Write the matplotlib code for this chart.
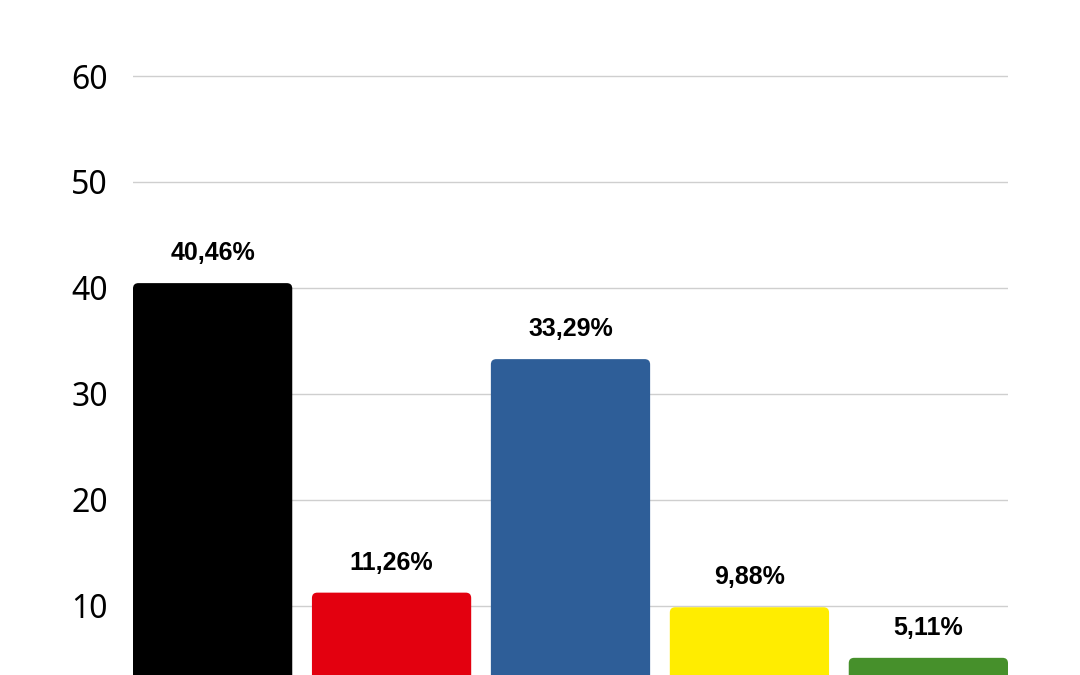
import matplotlib
matplotlib.use("Agg")
import matplotlib.pyplot as plt
from matplotlib.patches import FancyBboxPatch

# Values (percent)
parties = ["CDU", "SPD", "AfD", "FDP", "Grüne"]
values = [40.46, 11.26, 33.29, 9.88, 5.11]
labels = ["40,46%", "11,26%", "33,29%", "9,88%", "5,11%"]
colors = ["#000000", "#e3000f", "#2e5e98", "#ffed00", "#46902b"]
yticks = [10, 20, 30, 40, 50, 60]

fig = plt.figure(figsize=(10.8, 6.75), dpi=100)
ax = fig.add_axes([133 / 1080, 0, 875 / 1080, 1])

width = 0.89
x = list(range(len(values)))
bars = ax.bar(x, values, width=width, color=colors, zorder=2)

# swap the plain bars for slightly rounded ones
for b, c in zip(bars, colors):
    b.set_visible(False)
    p = FancyBboxPatch((b.get_x(), b.get_y()), b.get_width(), b.get_height(),
                       boxstyle="round,pad=0,rounding_size=0.03",
                       mutation_aspect=16.9, facecolor=c, edgecolor="none",
                       zorder=2)
    ax.add_patch(p)

for xi, v, lab in zip(x, values, labels):
    ax.annotate(lab, (xi, v), xytext=(0, 13), textcoords="offset points",
                ha="center", va="bottom", fontsize=18, fontweight="bold",
                family="Liberation Sans")

ax.set_xlim(-width / 2, len(values) - 1 + width / 2)
ax.set_ylim(3.49, 67.17)
ax.set_yticks(yticks)
ax.set_yticklabels([str(t) for t in yticks], fontsize=23, family="Noto Sans")
ax.set_xticks([])
ax.tick_params(axis="y", length=0, pad=18)
ax.grid(axis="y", color="#cfcfcf", linewidth=1, zorder=0)
for s in ax.spines.values():
    s.set_visible(False)

fig.savefig("out.png", dpi=100)
